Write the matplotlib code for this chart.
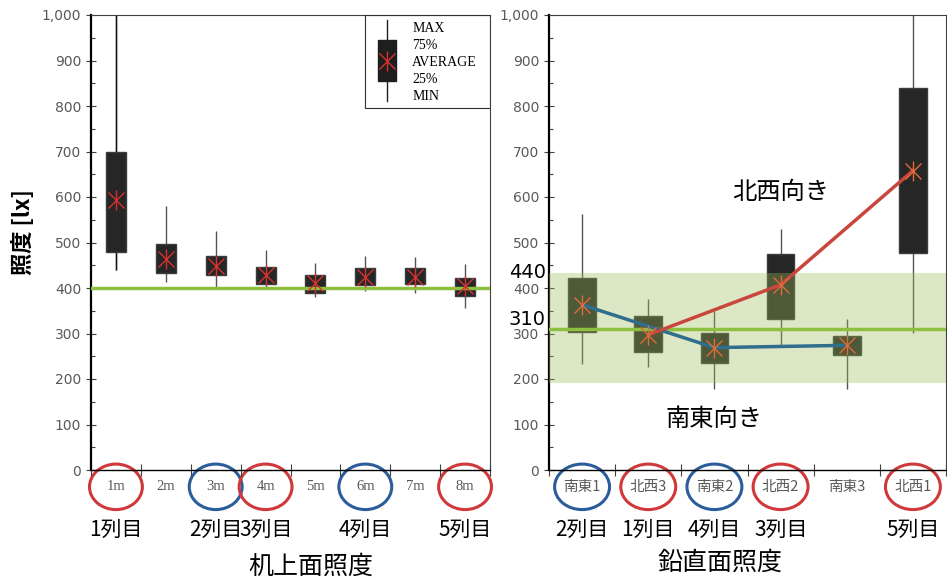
import numpy as np
import matplotlib
matplotlib.use('Agg')
import matplotlib.pyplot as plt
from matplotlib.patches import Ellipse, Rectangle
from matplotlib.ticker import MultipleLocator, FuncFormatter

# desk-top illuminance (left panel)
desk_labels = ['1m', '2m', '3m', '4m', '5m', '6m', '7m', '8m']
desk_max = [1050, 580, 526, 483, 456, 471, 469, 452]
desk_q3 = [699, 496, 471, 447, 428, 444, 444, 423]
desk_avg = [593, 464, 449, 429, 412, 425, 425, 404]
desk_q1 = [479, 433, 428, 408, 390, 407, 408, 383]
desk_min = [439, 413, 402, 399, 380, 393, 389, 356]
desk_circle = ['red', None, 'blue', 'red', None, 'blue', None, 'red']
desk_rows = ['1列目', '', '2列目', '3列目', '', '4列目', '', '5列目']
desk_target = 400

# vertical illuminance (right panel)
wall_labels = ['南東1', '北西3', '南東2', '北西2', '南東3', '北西1']
wall_max = [562, 376, 350, 530, 331, 1050]
wall_q3 = [423, 339, 301, 475, 295, 840]
wall_avg = [363, 297, 269, 407, 274, 658]
wall_q1 = [303, 260, 236, 332, 252, 478]
wall_min = [234, 226, 177, 274, 177, 302]
wall_circle = ['blue', 'red', 'blue', 'red', None, 'red']
wall_rows = ['2列目', '1列目', '4列目', '3列目', '', '5列目']
wall_target = 310
wall_band = [192, 433]
se_idx = [0, 2, 4]
nw_idx = [1, 3, 5]

CJK = ['Noto Sans CJK JP', 'DejaVu Sans']
circ_col = {'red': '#d0393b', 'blue': '#2a5d9a'}
tick_gray = '#595959'

fig = plt.figure(figsize=(9.47, 5.79), dpi=100)
axL = fig.add_axes([91 / 947, 1 - 470 / 579, 399 / 947, 455 / 579])
axR = fig.add_axes([549 / 947, 1 - 470 / 579, 397 / 947, 455 / 579])


def style_axis(ax, n):
    ax.set_xlim(-0.5, n - 0.5)
    ax.set_ylim(0, 1000)
    ax.yaxis.set_major_locator(MultipleLocator(100))
    ax.yaxis.set_minor_locator(MultipleLocator(50))
    ax.yaxis.set_major_formatter(FuncFormatter(lambda v, p: '{:,}'.format(int(v))))
    ax.set_xticks(np.arange(n + 1) - 0.5)
    ax.set_xticklabels([])
    ax.tick_params(axis='x', direction='inout', length=8, width=0.8, color='#404040')
    ax.tick_params(axis='y', which='major', direction='inout', length=7, width=0.8,
                   labelsize=10, labelcolor=tick_gray, color='#404040')
    ax.tick_params(axis='y', which='minor', direction='in', length=3, width=0.8, color='#404040')
    ax.spines['left'].set_linewidth(1.6)
    ax.spines['bottom'].set_linewidth(1.0)
    for s in ['top', 'right']:
        ax.spines[s].set_linewidth(0.8)
        ax.spines[s].set_color('#404040')


def draw_boxes(ax, mx, q3, avg, q1, mn, width, mcol):
    x = np.arange(len(avg))
    ax.vlines(x, mn, mx, color='#555555', lw=1, zorder=2)
    ax.bar(x, np.subtract(q3, q1), bottom=q1, width=width, color='#262626',
           edgecolor='#3c3c3c', lw=1, zorder=3)
    ax.plot(x, avg, ls='none', marker='x', ms=12, mew=1.0, mec=mcol, zorder=7)
    ax.plot(x, avg, ls='none', marker='|', ms=15, mew=1.0, mec=mcol, zorder=7)


def draw_labels(ax, labels, circles, rows, ell_w, lab_font, lab_size):
    tr = ax.get_xaxis_transform()
    for i, (lab, c, r) in enumerate(zip(labels, circles, rows)):
        ax.text(i, -0.037, lab, transform=tr, ha='center', va='center',
                fontsize=lab_size, color=tick_gray, family=lab_font)
        if c:
            ax.add_patch(Ellipse((i, -0.037), ell_w, 0.1, transform=tr, fill=False,
                                 ec=circ_col[c], lw=2.2, clip_on=False))
        if r:
            ax.text(i, -0.132, r, transform=tr, ha='center', va='center',
                    fontsize=15, family=CJK)


# ---- left panel
style_axis(axL, len(desk_labels))
draw_boxes(axL, desk_max, desk_q3, desk_avg, desk_q1, desk_min, 0.4, '#d8322f')
axL.vlines(0, desk_min[0], desk_max[0], color='#111111', lw=1, zorder=2)
axL.axhline(desk_target, color='#8dc03e', lw=2.5, zorder=5)
draw_labels(axL, desk_labels, desk_circle, desk_rows, 1.06, ['Liberation Serif'], 10.5)
axL.text(0.55, -0.213, '机上面照度', transform=axL.transAxes, ha='center', va='center',
         fontsize=18, family=CJK)
axL.set_ylabel('照度 [lx]', fontsize=16, family=CJK, fontweight='bold')
axL.yaxis.set_label_coords(-0.14, 0.523)

# legend drawn by hand
tA = axL.transAxes
axL.add_patch(Rectangle((0.687, 0.796), 0.313, 0.204, transform=tA, fill=False,
                        ec='#303030', lw=0.8, zorder=8))
axL.plot([0.742, 0.742], [0.811, 0.989], transform=tA, color='#202020', lw=1, zorder=8)
axL.add_patch(Rectangle((0.719, 0.855), 0.046, 0.09, transform=tA, fc='#1e1e1e',
                        ec='#1e1e1e', zorder=9))
axL.plot(0.742, 0.9, transform=tA, marker='x', ms=11, mec='#d8322f', mew=1, zorder=10)
axL.plot(0.742, 0.9, transform=tA, marker='|', ms=14, mec='#d8322f', mew=1, zorder=10)
for k, t in enumerate(['MAX', '75%', 'AVERAGE', '25%', 'MIN']):
    axL.text(0.805, 0.971 - k * 0.0375, t, transform=tA, va='center', ha='left',
             fontsize=10, family='Liberation Serif', zorder=10)

# ---- right panel
style_axis(axR, len(wall_labels))
draw_boxes(axR, wall_max, wall_q3, wall_avg, wall_q1, wall_min, 0.42, '#e06a3a')
axR.axhspan(wall_band[0], wall_band[1], color='#9bbb59', alpha=0.35, lw=0, zorder=4)
axR.axhline(wall_target, color='#8dc03e', lw=2.5, zorder=5)
axR.plot(se_idx, [wall_avg[i] for i in se_idx], color='#2f6e8c', lw=2.5, zorder=6)
axR.plot(nw_idx, [wall_avg[i] for i in nw_idx], color='#c9463d', lw=2.5, zorder=6)
draw_labels(axR, wall_labels, wall_circle, wall_rows, 0.83, CJK, 10.5)
axR.text(0.43, -0.203, '鉛直面照度', transform=axR.transAxes, ha='center', va='center',
         fontsize=18, family=CJK)
axR.text(3.0, 611, '北西向き', ha='center', va='center', fontsize=17.5, family=CJK, zorder=8)
axR.text(2.0, 112, '南東向き', ha='center', va='center', fontsize=17.5, family=CJK, zorder=8)
bt = axR.get_yaxis_transform()
axR.text(-0.055, wall_band[1], '440', transform=bt, ha='center', va='center',
         fontsize=14, zorder=8)
axR.text(-0.055, wall_target + 20, '310', transform=bt, ha='center', va='center',
         fontsize=14, zorder=8)

fig.savefig('out.png', dpi=100)
